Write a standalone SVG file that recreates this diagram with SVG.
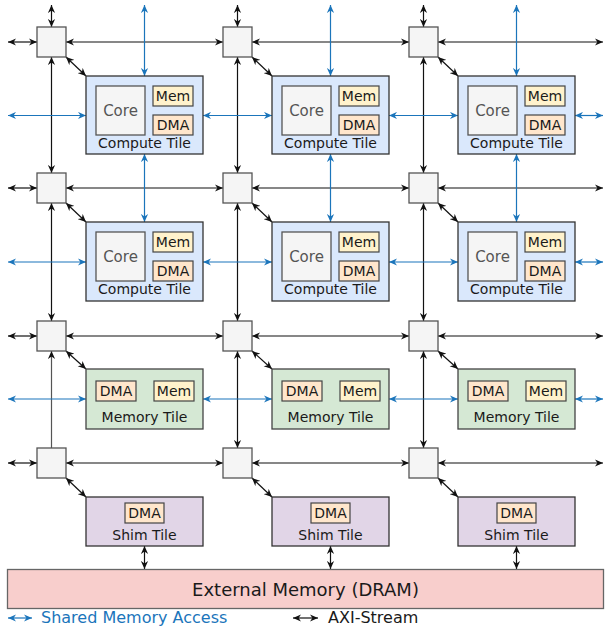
<svg xmlns="http://www.w3.org/2000/svg" width="605" height="627" viewBox="0 0 605 627">
<style>
text{font-family:"DejaVu Sans",Verdana,sans-serif;text-anchor:middle;fill:#1a1a1a}
.sw{fill:#f5f5f5;stroke:#555;stroke-width:1.3}
.ct{fill:#dae8fc;stroke:#333;stroke-width:1.3}
.mt{fill:#d5e8d4;stroke:#444;stroke-width:1.3}
.st{fill:#e1d5e7;stroke:#333;stroke-width:1.3}
.core{fill:#f5f5f5;stroke:#555;stroke-width:1.3}
.mem{fill:#fff2cc;stroke:#444;stroke-width:1.2}
.dma{fill:#ffe6cc;stroke:#444;stroke-width:1.2}
.lbl{font-size:14px}
.small{font-size:14px}
.corel{font-size:15px;fill:#555}
.b{stroke:#111;stroke-width:1.2;fill:none;marker-start:url(#ab);marker-end:url(#ab)}
.b1{stroke:#555;stroke-width:1.2;fill:none;marker-start:url(#ab)}
.u{stroke:#1b75bb;stroke-width:1.2;fill:none;marker-start:url(#au);marker-end:url(#au)}
</style>
<defs>
<marker id="ab" viewBox="0 0 10 10" refX="10" refY="5" markerWidth="8" markerHeight="8" markerUnits="userSpaceOnUse" orient="auto-start-reverse"><path d="M0,0.5 L10,5 L0,9.5 L3,5 Z" fill="#111"/></marker>
<marker id="au" viewBox="0 0 10 10" refX="10" refY="5" markerWidth="8" markerHeight="8" markerUnits="userSpaceOnUse" orient="auto-start-reverse"><path d="M0,0.5 L10,5 L0,9.5 L3,5 Z" fill="#1b75bb"/></marker>
</defs>

<g id="connectors">
<!-- black horizontals -->
<line class="b" x1="8" y1="42" x2="37" y2="42"/><line class="b" x1="66" y1="42" x2="223" y2="42"/><line class="b" x1="252" y1="42" x2="409" y2="42"/><line class="b" x1="438" y1="42" x2="603" y2="42"/>
<line class="b" x1="8" y1="188" x2="37" y2="188"/><line class="b" x1="66" y1="188" x2="223" y2="188"/><line class="b" x1="252" y1="188" x2="409" y2="188"/><line class="b" x1="438" y1="188" x2="603" y2="188"/>
<line class="b" x1="8" y1="336" x2="37" y2="336"/><line class="b" x1="66" y1="336" x2="223" y2="336"/><line class="b" x1="252" y1="336" x2="409" y2="336"/><line class="b" x1="438" y1="336" x2="603" y2="336"/>
<line class="b" x1="8" y1="463" x2="37" y2="463"/><line class="b" x1="66" y1="463" x2="223" y2="463"/><line class="b" x1="252" y1="463" x2="409" y2="463"/><line class="b" x1="438" y1="463" x2="603" y2="463"/>
<!-- black verticals -->
<line class="b" x1="51.5" y1="5" x2="51.5" y2="27"/><line class="b" x1="237.5" y1="5" x2="237.5" y2="27"/><line class="b" x1="423.5" y1="5" x2="423.5" y2="27"/>
<line class="b" x1="51.5" y1="57" x2="51.5" y2="173"/><line class="b" x1="237.5" y1="57" x2="237.5" y2="173"/><line class="b" x1="423.5" y1="57" x2="423.5" y2="173"/>
<line class="b" x1="51.5" y1="203" x2="51.5" y2="321"/><line class="b" x1="237.5" y1="203" x2="237.5" y2="321"/><line class="b" x1="423.5" y1="203" x2="423.5" y2="321"/>
<line class="b1" x1="51.5" y1="351" x2="51.5" y2="448"/><line class="b" x1="237.5" y1="351" x2="237.5" y2="448"/><line class="b" x1="423.5" y1="351" x2="423.5" y2="448"/>
<!-- diagonals -->
<line class="b" x1="66" y1="57" x2="86" y2="76"/><line class="b" x1="252" y1="57" x2="272" y2="76"/><line class="b" x1="438" y1="57" x2="458" y2="76"/>
<line class="b" x1="66" y1="203" x2="86" y2="222"/><line class="b" x1="252" y1="203" x2="272" y2="222"/><line class="b" x1="438" y1="203" x2="458" y2="222"/>
<line class="b" x1="66" y1="351" x2="86" y2="369"/><line class="b" x1="252" y1="351" x2="272" y2="369"/><line class="b" x1="438" y1="351" x2="458" y2="369"/>
<line class="b" x1="66" y1="478" x2="86" y2="497"/><line class="b" x1="252" y1="478" x2="272" y2="497"/><line class="b" x1="438" y1="478" x2="458" y2="497"/>
<!-- shim to DRAM -->
<line class="b" x1="144.5" y1="546" x2="144.5" y2="569"/><line class="b" x1="330.5" y1="546" x2="330.5" y2="569"/><line class="b" x1="516.5" y1="546" x2="516.5" y2="569"/>
<!-- blue horizontals -->
<line class="u" x1="8" y1="115.5" x2="86" y2="115.5"/><line class="u" x1="203" y1="115.5" x2="272" y2="115.5"/><line class="u" x1="389" y1="115.5" x2="458" y2="115.5"/><line class="u" x1="575" y1="115.5" x2="603" y2="115.5"/>
<line class="u" x1="8" y1="262" x2="86" y2="262"/><line class="u" x1="203" y1="262" x2="272" y2="262"/><line class="u" x1="389" y1="262" x2="458" y2="262"/><line class="u" x1="575" y1="262" x2="603" y2="262"/>
<line class="u" x1="8" y1="399" x2="86" y2="399"/><line class="u" x1="203" y1="399" x2="272" y2="399"/><line class="u" x1="389" y1="399" x2="458" y2="399"/><line class="u" x1="575" y1="399" x2="603" y2="399"/>
<!-- blue verticals -->
<line class="u" x1="144.5" y1="5" x2="144.5" y2="76"/><line class="u" x1="330.5" y1="5" x2="330.5" y2="76"/><line class="u" x1="516.5" y1="5" x2="516.5" y2="76"/>
<line class="u" x1="144.5" y1="154" x2="144.5" y2="222"/><line class="u" x1="330.5" y1="154" x2="330.5" y2="222"/><line class="u" x1="516.5" y1="154" x2="516.5" y2="222"/>
<!-- legend arrows -->
<line class="u" x1="8" y1="618" x2="32" y2="618"/>
<line class="b" x1="293" y1="618" x2="318" y2="618"/>
</g>

<!-- switches -->
<g id="sw-r1"><rect class="sw" x="37" y="27" width="29" height="30"/><rect class="sw" x="223" y="27" width="29" height="30"/><rect class="sw" x="409" y="27" width="29" height="30"/></g>
<g id="sw-r2"><rect class="sw" x="37" y="173" width="29" height="30"/><rect class="sw" x="223" y="173" width="29" height="30"/><rect class="sw" x="409" y="173" width="29" height="30"/></g>
<g id="sw-r3"><rect class="sw" x="37" y="321" width="29" height="30"/><rect class="sw" x="223" y="321" width="29" height="30"/><rect class="sw" x="409" y="321" width="29" height="30"/></g>
<g id="sw-r4"><rect class="sw" x="37" y="448" width="29" height="30"/><rect class="sw" x="223" y="448" width="29" height="30"/><rect class="sw" x="409" y="448" width="29" height="30"/></g>

<!-- compute tiles row 1 -->
<g id="ct-1-1" transform="translate(86,76)">
<rect class="ct" width="117" height="78"/><rect class="core" x="10" y="10" width="49" height="49"/><text class="corel" x="34.5" y="40">Core</text>
<rect class="mem" x="67" y="10" width="40" height="20"/><text class="small" x="87" y="25">Mem</text>
<rect class="dma" x="67" y="39" width="40" height="20"/><text class="small" x="87" y="54">DMA</text>
<text class="lbl" x="58.5" y="72">Compute Tile</text></g>
<g id="ct-1-2" transform="translate(272,76)">
<rect class="ct" width="117" height="78"/><rect class="core" x="10" y="10" width="49" height="49"/><text class="corel" x="34.5" y="40">Core</text>
<rect class="mem" x="67" y="10" width="40" height="20"/><text class="small" x="87" y="25">Mem</text>
<rect class="dma" x="67" y="39" width="40" height="20"/><text class="small" x="87" y="54">DMA</text>
<text class="lbl" x="58.5" y="72">Compute Tile</text></g>
<g id="ct-1-3" transform="translate(458,76)">
<rect class="ct" width="117" height="78"/><rect class="core" x="10" y="10" width="49" height="49"/><text class="corel" x="34.5" y="40">Core</text>
<rect class="mem" x="67" y="10" width="40" height="20"/><text class="small" x="87" y="25">Mem</text>
<rect class="dma" x="67" y="39" width="40" height="20"/><text class="small" x="87" y="54">DMA</text>
<text class="lbl" x="58.5" y="72">Compute Tile</text></g>

<!-- compute tiles row 2 -->
<g id="ct-2-1" transform="translate(86,222)">
<rect class="ct" width="117" height="79"/><rect class="core" x="10" y="10" width="49" height="49"/><text class="corel" x="34.5" y="40">Core</text>
<rect class="mem" x="67" y="10" width="40" height="20"/><text class="small" x="87" y="25">Mem</text>
<rect class="dma" x="67" y="39" width="40" height="20"/><text class="small" x="87" y="54">DMA</text>
<text class="lbl" x="58.5" y="72">Compute Tile</text></g>
<g id="ct-2-2" transform="translate(272,222)">
<rect class="ct" width="117" height="79"/><rect class="core" x="10" y="10" width="49" height="49"/><text class="corel" x="34.5" y="40">Core</text>
<rect class="mem" x="67" y="10" width="40" height="20"/><text class="small" x="87" y="25">Mem</text>
<rect class="dma" x="67" y="39" width="40" height="20"/><text class="small" x="87" y="54">DMA</text>
<text class="lbl" x="58.5" y="72">Compute Tile</text></g>
<g id="ct-2-3" transform="translate(458,222)">
<rect class="ct" width="117" height="79"/><rect class="core" x="10" y="10" width="49" height="49"/><text class="corel" x="34.5" y="40">Core</text>
<rect class="mem" x="67" y="10" width="40" height="20"/><text class="small" x="87" y="25">Mem</text>
<rect class="dma" x="67" y="39" width="40" height="20"/><text class="small" x="87" y="54">DMA</text>
<text class="lbl" x="58.5" y="72">Compute Tile</text></g>

<!-- memory tiles -->
<g id="mt-1" transform="translate(86,369)">
<rect class="mt" width="117" height="60"/>
<rect class="dma" x="10" y="12" width="40" height="20"/><text class="small" x="30" y="27">DMA</text>
<rect class="mem" x="68" y="12" width="40" height="20"/><text class="small" x="88" y="27">Mem</text>
<text class="lbl" x="58.5" y="53">Memory Tile</text></g>
<g id="mt-2" transform="translate(272,369)">
<rect class="mt" width="117" height="60"/>
<rect class="dma" x="10" y="12" width="40" height="20"/><text class="small" x="30" y="27">DMA</text>
<rect class="mem" x="68" y="12" width="40" height="20"/><text class="small" x="88" y="27">Mem</text>
<text class="lbl" x="58.5" y="53">Memory Tile</text></g>
<g id="mt-3" transform="translate(458,369)">
<rect class="mt" width="117" height="60"/>
<rect class="dma" x="10" y="12" width="40" height="20"/><text class="small" x="30" y="27">DMA</text>
<rect class="mem" x="68" y="12" width="40" height="20"/><text class="small" x="88" y="27">Mem</text>
<text class="lbl" x="58.5" y="53">Memory Tile</text></g>

<!-- shim tiles -->
<g id="st-1" transform="translate(86,497)">
<rect class="st" width="117" height="49"/>
<rect class="dma" x="39" y="6" width="39" height="20"/><text class="small" x="58.5" y="21">DMA</text>
<text class="lbl" x="58.5" y="43">Shim Tile</text></g>
<g id="st-2" transform="translate(272,497)">
<rect class="st" width="117" height="49"/>
<rect class="dma" x="39" y="6" width="39" height="20"/><text class="small" x="58.5" y="21">DMA</text>
<text class="lbl" x="58.5" y="43">Shim Tile</text></g>
<g id="st-3" transform="translate(458,497)">
<rect class="st" width="117" height="49"/>
<rect class="dma" x="39" y="6" width="39" height="20"/><text class="small" x="58.5" y="21">DMA</text>
<text class="lbl" x="58.5" y="43">Shim Tile</text></g>

<g id="dram">
<rect x="7.5" y="569.5" width="596" height="39" fill="#f8cecc" stroke="#666" stroke-width="1.3"/>
<text x="305.5" y="596" style="font-size:18px">External Memory (DRAM)</text>
</g>

<g id="legend">
<text x="41" y="623" style="font-size:16px;text-anchor:start;fill:#1b75bb">Shared Memory Access</text>
<text x="328" y="623" style="font-size:16px;text-anchor:start">AXI-Stream</text>
</g>
</svg>
